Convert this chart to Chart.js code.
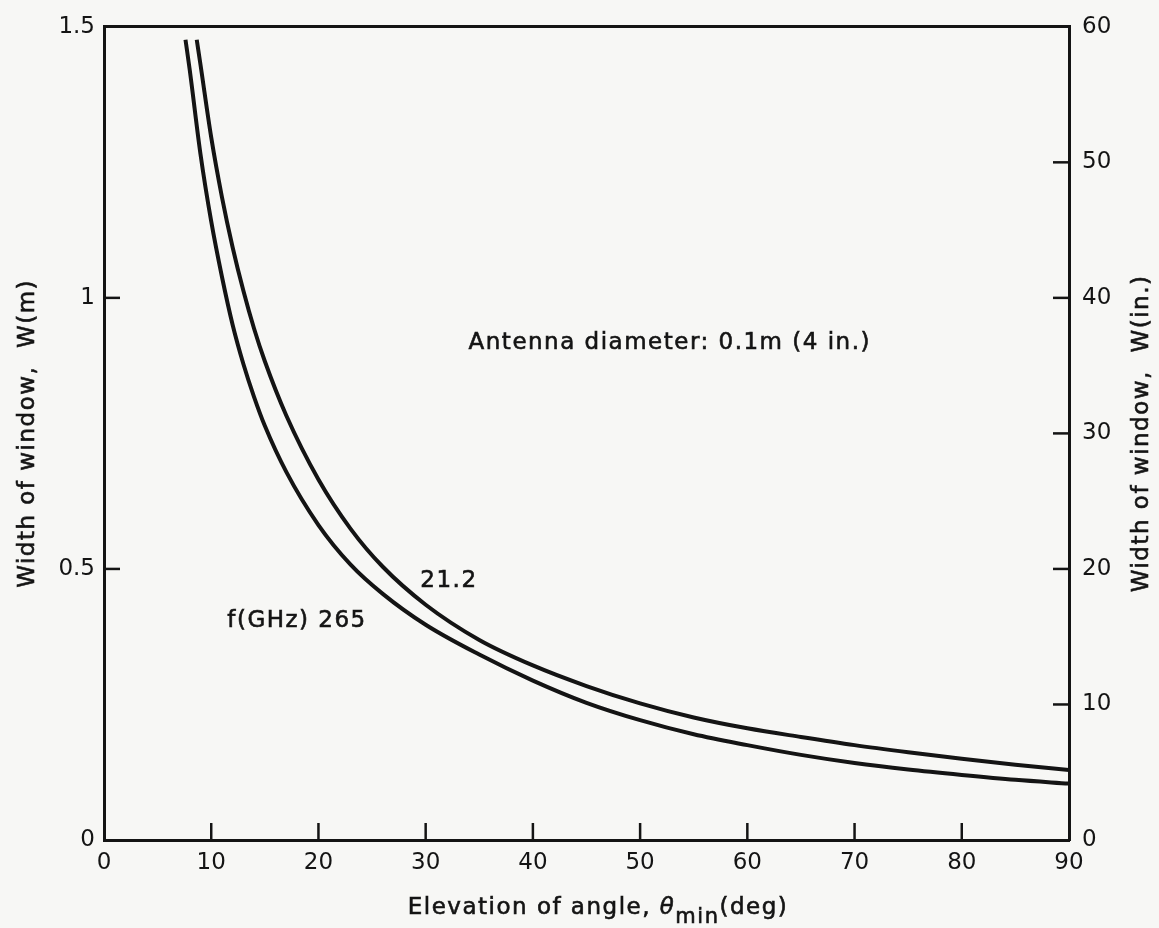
<!DOCTYPE html>
<html>
<head>
<meta charset="utf-8">
<script src="https://cdn.jsdelivr.net/npm/chart.js@4.4.1/dist/chart.umd.min.js"></script>
<style>
  html, body { margin: 0; padding: 0; background: #f7f7f5; }
  #wrap { width: 1159px; height: 928px; position: relative; }
</style>
</head>
<body>
<div id="wrap"><canvas id="c" width="1159" height="928"></canvas></div>
<script>
// Elevation angle (deg) and window width (m)
const angle21 = [8.65, 9, 10, 11, 12, 13, 14, 15, 17, 20, 23, 26, 30, 35, 40, 45, 50, 55, 60, 65, 70, 75, 80, 85, 90];
const width21 = [1.476, 1.43, 1.296, 1.186, 1.093, 1.013, 0.943, 0.883, 0.783, 0.665, 0.574, 0.504, 0.434, 0.369, 0.322, 0.284, 0.252, 0.226, 0.206, 0.190, 0.175, 0.162, 0.150, 0.139, 0.129];
const angle265 = [7.6, 8, 9, 10, 11, 12, 13, 14, 15, 17, 20, 23, 26, 30, 35, 40, 45, 50, 55, 60, 65, 70, 75, 80, 85, 90];
const width265 = [1.476, 1.42, 1.265, 1.141, 1.039, 0.950, 0.878, 0.817, 0.764, 0.679, 0.581, 0.508, 0.454, 0.397, 0.342, 0.294, 0.253, 0.221, 0.195, 0.175, 0.157, 0.142, 0.130, 0.120, 0.111, 0.104];

const xTicks = [0, 10, 20, 30, 40, 50, 60, 70, 80, 90];
const yLeftTicks = [0, 0.5, 1, 1.5];
const yRightTicks = [0, 10, 20, 30, 40, 50, 60];

const labels = [
  { text: 'Antenna diameter: 0.1m (4 in.)', x: 34.0, y: 0.917 },
  { text: '21.2', x: 29.5, y: 0.478 },
  { text: 'f(GHz) 265', x: 11.5, y: 0.404 }
];

const INK = '#141414';
const FONT = '"DejaVu Sans", sans-serif';

function pts(xs, ys) { return xs.map((x, i) => ({ x: x, y: ys[i] })); }

function heavyText(ctx, s, x, y) {
  ctx.fillText(s, x, y);
  ctx.strokeText(s, x, y);
}

const inwardTicks = {
  id: 'inwardTicks',
  afterDatasetsDraw(chart) {
    const ctx = chart.ctx, a = chart.chartArea;
    const sx = chart.scales.x, sy = chart.scales.y, sy2 = chart.scales.y2;
    ctx.save();
    ctx.strokeStyle = INK; ctx.lineWidth = 2.5;
    xTicks.slice(1, -1).forEach(v => {
      const p = sx.getPixelForValue(v);
      ctx.beginPath(); ctx.moveTo(p, a.bottom); ctx.lineTo(p, a.bottom - 17); ctx.stroke();
    });
    yLeftTicks.slice(1, -1).forEach(v => {
      const p = sy.getPixelForValue(v);
      ctx.beginPath(); ctx.moveTo(a.left, p); ctx.lineTo(a.left + 16, p); ctx.stroke();
    });
    yRightTicks.slice(1, -1).forEach(v => {
      const p = sy2.getPixelForValue(v);
      ctx.beginPath(); ctx.moveTo(a.right, p); ctx.lineTo(a.right - 16, p); ctx.stroke();
    });
    ctx.fillStyle = INK; ctx.lineWidth = 0.6;
    ctx.font = '23px ' + FONT;
    ctx.letterSpacing = '1.5px';
    ctx.textAlign = 'left'; ctx.textBaseline = 'middle';
    labels.forEach(l => {
      heavyText(ctx, l.text, sx.getPixelForValue(l.x), sy.getPixelForValue(l.y));
    });
    ctx.restore();
  },
  afterDraw(chart) {
    const ctx = chart.ctx, a = chart.chartArea;
    ctx.save();
    ctx.fillStyle = INK; ctx.strokeStyle = INK; ctx.lineWidth = 0.6;
    ctx.letterSpacing = '1.5px';
    ctx.textBaseline = 'middle'; ctx.textAlign = 'center';
    ctx.font = '23px ' + FONT;
    ctx.save(); ctx.translate(28, (a.top + a.bottom) / 2); ctx.rotate(-Math.PI / 2);
    heavyText(ctx, 'Width of window,  W(m)', 0, 0); ctx.restore();
    ctx.save(); ctx.translate(1142, (a.top + a.bottom) / 2); ctx.rotate(-Math.PI / 2);
    heavyText(ctx, 'Width of window,  W(in.)', 0, 0); ctx.restore();
    const p1 = 'Elevation of angle, ', th = 'θ', sub = 'min', p2 = '(deg)';
    ctx.textAlign = 'left'; ctx.textBaseline = 'alphabetic';
    const big = '23px ' + FONT, ital = 'italic 23px ' + FONT, small = '21px ' + FONT;
    ctx.font = big; const w1 = ctx.measureText(p1).width, w4 = ctx.measureText(p2).width;
    ctx.font = ital; const w2 = ctx.measureText(th).width;
    ctx.font = small; const w3 = ctx.measureText(sub).width;
    const total = w1 + w2 + w3 + w4;
    let x = 598 - total / 2; const base = 914;
    ctx.font = big; heavyText(ctx, p1, x, base); x += w1;
    ctx.font = ital; heavyText(ctx, th, x, base); x += w2;
    ctx.font = small; heavyText(ctx, sub, x, base + 9); x += w3;
    ctx.font = big; heavyText(ctx, p2, x, base);
    ctx.restore();
  }
};

new Chart(document.getElementById('c'), {
  type: 'line',
  data: {
    datasets: [
      { label: '21.2 GHz', data: pts(angle21, width21), borderColor: INK, borderWidth: 4, pointRadius: 0, cubicInterpolationMode: 'monotone', fill: false, yAxisID: 'y', xAxisID: 'x' },
      { label: '265 GHz', data: pts(angle265, width265), borderColor: INK, borderWidth: 4, pointRadius: 0, cubicInterpolationMode: 'monotone', fill: false, yAxisID: 'y', xAxisID: 'x' }
    ]
  },
  options: {
    responsive: false,
    animation: false,
    events: [],
    layout: { padding: 0 },
    plugins: { legend: { display: false }, tooltip: { enabled: false }, title: { display: false } },
    scales: {
      x: {
        type: 'linear', position: 'bottom', min: 0, max: 90,
        afterBuildTicks: s => { s.ticks = xTicks.map(v => ({ value: v })); },
        afterFit: s => { s.height = 88; },
        ticks: { color: INK, font: { family: FONT, size: 23 }, padding: 9, maxRotation: 0, autoSkip: false, callback: v => String(v) },
        grid: { drawOnChartArea: false, drawTicks: false },
        border: { display: true, color: INK, width: 3 }
      },
      x2: {
        type: 'linear', position: 'top', min: 0, max: 90,
        afterFit: s => { s.height = 22; },
        ticks: { display: false },
        grid: { drawOnChartArea: false, drawTicks: false },
        border: { display: true, color: INK, width: 3 }
      },
      y: {
        type: 'linear', position: 'left', min: 0, max: 1.5,
        afterBuildTicks: s => { s.ticks = yLeftTicks.map(v => ({ value: v })); },
        afterFit: s => { s.width = 104; },
        ticks: { color: INK, font: { family: FONT, size: 23 }, padding: 9, callback: v => String(v) },
        grid: { drawOnChartArea: false, drawTicks: false },
        border: { display: true, color: INK, width: 3 }
      },
      y2: {
        type: 'linear', position: 'right', min: 0, max: 60,
        afterBuildTicks: s => { s.ticks = yRightTicks.map(v => ({ value: v })); },
        afterFit: s => { s.width = 90; },
        ticks: { color: INK, font: { family: FONT, size: 23 }, padding: 13, callback: v => String(v) },
        grid: { drawOnChartArea: false, drawTicks: false },
        border: { display: true, color: INK, width: 3 }
      }
    }
  },
  plugins: [inwardTicks]
});
</script>
</body>
</html>
